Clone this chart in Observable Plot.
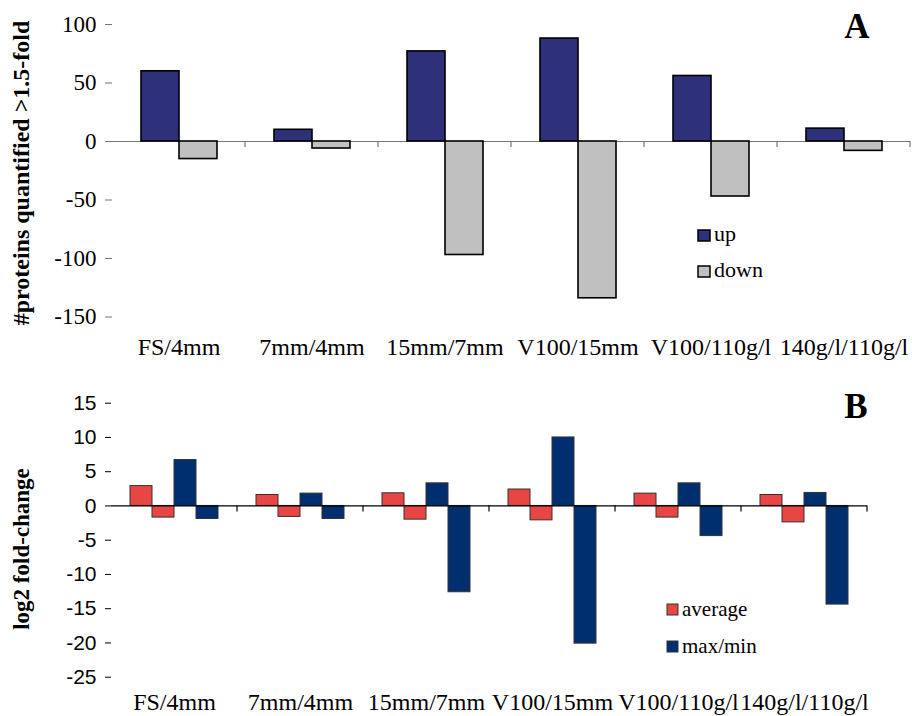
<!DOCTYPE html>
<html>
<head>
<meta charset="utf-8">
<script src="https://cdn.jsdelivr.net/npm/d3@7"></script>
<script src="https://cdn.jsdelivr.net/npm/@observablehq/plot@0.6"></script>
<style>
  html, body { margin: 0; padding: 0; background: #fff; }
  #wrap { position: relative; width: 912px; height: 716px; overflow: hidden; }
  #panelA { position: absolute; left: 0; top: 0; }
  #panelB { position: absolute; left: 0; top: 380px; }
  #overlay { position: absolute; left: 0; top: 0; pointer-events: none; }
  #panelA svg g[aria-label="y-axis tick label"],
  #panelA svg g[aria-label="y-axis tick label"] text { font-family: "Liberation Serif", "Times New Roman", serif !important; }
  #panelB svg g[aria-label="y-axis tick label"],
  #panelB svg g[aria-label="y-axis tick label"] text { font-family: "Liberation Sans", Arial, sans-serif !important; }
</style>
</head>
<body>
<div id="wrap">
  <div id="panelA"></div>
  <div id="panelB"></div>
</div>
<script>
// ---- data ----
const categories = ["FS/4mm", "7mm/4mm", "15mm/7mm", "V100/15mm", "V100/110g/l", "140g/l/110g/l"];
// Panel A: # proteins quantified > 1.5-fold
const upCounts   = [60, 10, 77, 88, 56, 11];
const downCounts = [-15, -6, -97, -134, -47, -8];
const seriesA = ["up", "down"];
const ticksA = [-150, -100, -50, 0, 50, 100];
// Panel B: log2 fold-change
const avgUp   = [2.9, 1.6, 1.85, 2.4, 1.8, 1.6];
const avgDown = [-1.7, -1.6, -2.0, -2.1, -1.7, -2.4];
const maxFC   = [6.7, 1.8, 3.3, 10.0, 3.3, 1.9];
const minFC   = [-1.9, -1.9, -12.6, -20.1, -4.4, -14.4];
const seriesB = ["avgUp", "avgDown", "max", "min"];
const groupsB = ["average", "max/min"];
const ticksB = [-25, -20, -15, -10, -5, 0, 5, 10, 15];

const colorsA = ["#2E3179", "#C0C0C0"];
const colorsB = ["#E84545", "#002F6F"];

const dataA = categories.flatMap((c, i) => [
  {category: c, series: "up", value: upCounts[i]},
  {category: c, series: "down", value: downCounts[i]}
]);
const dataB = categories.flatMap((c, i) => [
  {category: c, series: "avgUp", group: "average", value: avgUp[i]},
  {category: c, series: "avgDown", group: "average", value: avgDown[i]},
  {category: c, series: "max", group: "max/min", value: maxFC[i]},
  {category: c, series: "min", group: "max/min", value: minFC[i]}
]);

const serif = "Liberation Serif, Times New Roman, serif";
const sans = "Liberation Sans, Arial, sans-serif";
const fmt = d => String(d); // plain hyphen for negatives, as in the original

// ---- Panel A ----
const plotA = Plot.plot({
  width: 912, height: 362,
  marginLeft: 110, marginRight: 0, marginTop: 24, marginBottom: 45.5,
  style: {fontFamily: serif, fontSize: "24px", background: "transparent", color: "black", overflow: "visible"},
  fx: {domain: categories, padding: 0, label: null},
  x: {domain: seriesA, paddingInner: 0, paddingOuter: 0.74, axis: null},
  y: {domain: [-150, 100], label: null},
  color: {domain: seriesA, range: colorsA},
  marks: [
    Plot.ruleY([0], {stroke: "#777", strokeWidth: 1.2}),
    Plot.barY(dataA, {fx: "category", x: "series", y: "value", fill: "series", stroke: "black", strokeWidth: 1.6}),
    Plot.axisY({ticks: ticksA, tickFormat: fmt, tickSize: 7, tickPadding: 9, stroke: "#777", line: true,
                fontSize: 23, fontFamily: serif, fontVariant: "normal", label: null}),
    Plot.axisFx({anchor: "bottom", tickSize: 0, tickPadding: 21, label: null, fontSize: 24, fontFamily: serif})
  ]
});
document.getElementById("panelA").appendChild(plotA);

// ---- Panel B ----
const plotB = Plot.plot({
  width: 912, height: 336,
  marginLeft: 110, marginRight: 44.3, marginTop: 22.7, marginBottom: 39.3,
  style: {fontFamily: serif, fontSize: "24px", background: "transparent", color: "black", overflow: "visible"},
  fx: {domain: categories, padding: 0, label: null},
  x: {domain: seriesB, paddingInner: 0, paddingOuter: 0.74, axis: null},
  y: {domain: [-25, 15], label: null},
  color: {domain: groupsB, range: colorsB},
  marks: [
    Plot.barY(dataB, {fx: "category", x: "series", y: "value", fill: "group", stroke: "#333", strokeWidth: 1}),
    Plot.ruleY([0], {stroke: "black", strokeWidth: 1.2}),
    Plot.axisY({ticks: ticksB, tickFormat: fmt, tickSize: 6, tickPadding: 9, stroke: "black", line: true,
                fontSize: 21, fontFamily: sans, fontVariant: "normal", label: null}),
    Plot.axisFx({anchor: "bottom", tickSize: 0, tickPadding: 16, label: null, fontSize: 24, fontFamily: serif})
  ]
});
document.getElementById("panelB").appendChild(plotB);

// category-boundary ticks on the zero line, from the plots' own scales
function boundaryTicks(plot, stroke, len) {
  const fx = plot.scale("fx"), y = plot.scale("y");
  const y0 = y.apply(0);
  const edges = categories.slice(1).map(c => fx.apply(c));
  edges.push(fx.apply(categories[categories.length - 1]) + fx.bandwidth);
  d3.select(plot).append("g")
    .selectAll("line").data(edges).join("line")
    .attr("x1", d => d).attr("x2", d => d)
    .attr("y1", y0).attr("y2", y0 + len)
    .attr("stroke", stroke).attr("stroke-width", 1.2);
}
boundaryTicks(plotA, "#777", 6);
boundaryTicks(plotB, "black", 6);

// ---- overlay: axis titles, panel letters, legends ----
const ov = d3.select("#wrap").append("svg").attr("id", "overlay")
  .attr("width", 912).attr("height", 716);

ov.append("text").text("#proteins quantified >1.5-fold")
  .attr("transform", "translate(29,173) rotate(-90)")
  .attr("text-anchor", "middle").attr("font-family", serif)
  .attr("font-weight", "bold").attr("font-size", 24);
ov.append("text").text("log2 fold-change")
  .attr("transform", "translate(29,549) rotate(-90)")
  .attr("text-anchor", "middle").attr("font-family", serif)
  .attr("font-weight", "bold").attr("font-size", 23);

ov.append("text").text("A").attr("x", 857).attr("y", 38)
  .attr("text-anchor", "middle").attr("font-family", serif)
  .attr("font-weight", "bold").attr("font-size", 35);
ov.append("text").text("B").attr("x", 856).attr("y", 418)
  .attr("text-anchor", "middle").attr("font-family", serif)
  .attr("font-weight", "bold").attr("font-size", 35);

// legend A
const legA = [{label: "up", y: 230}, {label: "down", y: 266}];
legA.forEach((d, i) => {
  ov.append("rect").attr("x", 698).attr("y", d.y).attr("width", 12).attr("height", 11)
    .attr("fill", colorsA[i]).attr("stroke", "black").attr("stroke-width", 1.5);
  ov.append("text").text(d.label).attr("x", 714).attr("y", d.y + 11)
    .attr("font-family", serif).attr("font-size", 22);
});
// legend B
const legB = [{label: "average", y: 604}, {label: "max/min", y: 641}];
legB.forEach((d, i) => {
  ov.append("rect").attr("x", 667).attr("y", d.y).attr("width", 11).attr("height", 11)
    .attr("fill", colorsB[i]).attr("stroke", "#333").attr("stroke-width", 1);
  ov.append("text").text(d.label).attr("x", 682).attr("y", d.y + 12)
    .attr("font-family", serif).attr("font-size", 21);
});
</script>
</body>
</html>
